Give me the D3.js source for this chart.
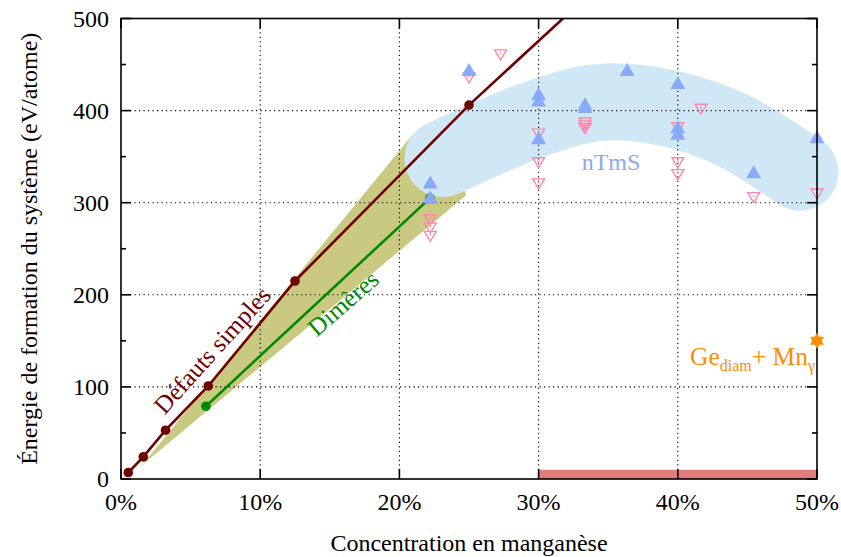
<!DOCTYPE html>
<html><head><meta charset="utf-8">
<script src="https://cdn.jsdelivr.net/npm/d3@7"></script>
<style>body{margin:0;background:#fff}</style>
</head><body><svg id="c" width="841" height="557" font-family="Liberation Serif, Times New Roman, serif"></svg>
<script>
// ---- data ----
const xTickValues = [0, 10, 20, 30, 40, 50];
const xTickLabels = ["0%", "10%", "20%", "30%", "40%", "50%"];
const yTickValues = [0, 100, 200, 300, 400, 500];
const yMinorTicks = [50, 150, 250, 350, 450];
const simpleX = [0.52, 1.6, 3.2, 6.27, 12.5, 25, 33.33];
const simpleY = [7, 24, 53, 101, 215, 406, 522];
const simpleMarked = 6; // first 6 points have markers
const dimerX = [6.1, 22.2];
const dimerY = [79, 305];
const bandX = [1.5, 21.0, 23.5, 24.8];
const bandY = [15, 375, 360, 308];
const blobX = [23.13, 29.6, 34.4, 39.2, 43.97, 48.78];
const blobY = [348, 390, 409, 403, 378.5, 333];
const upX = [25, 30, 30, 30, 33.33, 33.33, 36.36, 40, 40, 40, 45.45, 50, 22.22, 22.22];
const upY = [444, 418, 411, 370, 407, 404, 444, 430, 382, 375, 333, 371, 322, 306];
const downX = [27.27, 25, 30, 30, 30, 33.33, 33.33, 33.33, 40, 40, 40, 41.67, 45.45, 50, 22.22, 22.22, 22.22];
const downY = [461, 436, 375, 344, 321, 387, 384, 381, 382, 344, 331, 402, 306, 310, 282, 273, 264];
const starX = [50], starY = [150];
const barX = [30, 50], barY = [0, 10];

// ---- layout ----
const svg = d3.select("#c");
const L = 121, R = 817, T = 18.5, B = 479;
const x = d3.scaleLinear().domain([0, 50]).range([L, R]);
const y = d3.scaleLinear().domain([0, 500]).range([B, T]);

svg.append("clipPath").attr("id", "clip").append("rect")
  .attr("x", L).attr("y", T).attr("width", R - L).attr("height", B - T);
const gBand = svg.append("g").attr("clip-path", "url(#clip)");
const gBlob = svg.append("g");
const gGrid = svg.append("g");
const gData = svg.append("g").attr("clip-path", "url(#clip)");
const gMark = svg.append("g");
const gAxis = svg.append("g");
const gText = svg.append("g");

// olive band
gBand.append("path")
  .attr("d", d3.line()(bandX.map((d, i) => [x(d), y(bandY[i])])) + "Z")
  .attr("fill", "#c9c982");

// nTmS blob
gBlob.append("path")
  .attr("d", d3.line().curve(d3.curveCatmullRom)(blobX.map((d, i) => [x(d), y(blobY[i])])))
  .attr("fill", "none").attr("stroke", "#d0e8f6").attr("stroke-width", 77)
  .attr("stroke-linecap", "round");

// grid
const grid = gGrid.attr("stroke", "#000").attr("stroke-width", 1.1).attr("stroke-dasharray", "1.2,3.3");
xTickValues.slice(1, -1).forEach(v => grid.append("line").attr("x1", x(v)).attr("x2", x(v)).attr("y1", B).attr("y2", T));
yTickValues.slice(1, -1).forEach(v => grid.append("line").attr("x1", L).attr("x2", R).attr("y1", y(v)).attr("y2", y(v)));

// red bar
gData.append("rect").attr("x", x(barX[0])).attr("width", x(barX[1]) - x(barX[0]))
  .attr("y", y(barY[1])).attr("height", y(barY[0]) - y(barY[1])).attr("fill", "#e07c7c");

// lines
const simplePts = simpleX.map((d, i) => [x(d), y(simpleY[i])]);
gData.append("path").attr("d", d3.line()(simplePts)).attr("fill", "none")
  .attr("stroke", "#6e0000").attr("stroke-width", 2.6);
simplePts.slice(0, simpleMarked).forEach(p => gData.append("circle").attr("cx", p[0]).attr("cy", p[1]).attr("r", 4.8).attr("fill", "#6e0000"));

const dimerPts = dimerX.map((d, i) => [x(d), y(dimerY[i])]);
gData.append("path").attr("d", d3.line()(dimerPts)).attr("fill", "none")
  .attr("stroke", "#008a00").attr("stroke-width", 2.6);
dimerPts.forEach(p => gData.append("circle").attr("cx", p[0]).attr("cy", p[1]).attr("r", 4.8).attr("fill", "#008a00"));

// down triangles (open)
downX.forEach((d, i) => {
  const cx = x(d), cy = y(downY[i]);
  gMark.append("path").attr("d", `M${cx-6},${cy-4.5}L${cx+6},${cy-4.5}L${cx},${cy+5.5}Z`)
    .attr("fill", "none").attr("stroke", "#ff88aa").attr("stroke-width", 1.4);
  gMark.append("circle").attr("cx", cx).attr("cy", cy - 1).attr("r", 0.9).attr("fill", "#ff88aa");
});
// up triangles (filled)
upX.forEach((d, i) => {
  const cx = x(d), cy = y(upY[i]);
  gMark.append("path").attr("d", `M${cx},${cy-7}L${cx+7.5},${cy+6}L${cx-7.5},${cy+6}Z`).attr("fill", "#88aaf8");
});
// star
starX.forEach((d, i) => {
  const cx = x(d), cy = y(starY[i]), r = 8;
  const tri = a => d3.range(3).map(k => { const t = a + k * 2 * Math.PI / 3; return [cx + r * Math.cos(t), cy + r * Math.sin(t)]; });
  gText.append("path").attr("d", d3.line()(tri(-Math.PI / 2)) + "Z" + d3.line()(tri(Math.PI / 2)) + "Z").attr("fill", "#ff8c00");
});

// frame & ticks
gAxis.append("rect").attr("x", L).attr("y", T).attr("width", R - L).attr("height", B - T)
  .attr("fill", "none").attr("stroke", "#000").attr("stroke-width", 1.6);
const tk = gAxis.append("g").attr("stroke", "#000").attr("stroke-width", 1.6);
xTickValues.forEach(v => {
  tk.append("line").attr("x1", x(v)).attr("x2", x(v)).attr("y1", B).attr("y2", B - 10);
  tk.append("line").attr("x1", x(v)).attr("x2", x(v)).attr("y1", T).attr("y2", T + 10);
});
yTickValues.forEach(v => {
  tk.append("line").attr("x1", L).attr("x2", L + 10).attr("y1", y(v)).attr("y2", y(v));
  tk.append("line").attr("x1", R).attr("x2", R - 10).attr("y1", y(v)).attr("y2", y(v));
});
yMinorTicks.forEach(v => {
  tk.append("line").attr("x1", L).attr("x2", L + 5).attr("y1", y(v)).attr("y2", y(v));
  tk.append("line").attr("x1", R).attr("x2", R - 5).attr("y1", y(v)).attr("y2", y(v));
});

// tick labels
xTickValues.forEach((v, i) => gText.append("text").attr("x", x(v)).attr("y", B + 31)
  .attr("text-anchor", "middle").attr("font-size", 24).text(xTickLabels[i]));
yTickValues.forEach(v => gText.append("text").attr("x", L - 12).attr("y", y(v)).attr("dy", "0.35em")
  .attr("text-anchor", "end").attr("font-size", 24).text(v));

// axis titles
gText.append("text").attr("x", (L + R) / 2).attr("y", 551).attr("text-anchor", "middle")
  .attr("font-size", 24).text("Concentration en manganèse");
gText.append("text").attr("transform", `translate(37,${(T + B) / 2}) rotate(-90)`).attr("text-anchor", "middle")
  .attr("font-size", 24).text("Énergie de formation du système (eV/atome)");

// annotations
gText.append("text").attr("transform", `translate(212,350) rotate(-48)`).attr("text-anchor", "middle")
  .attr("dy", "0.35em").attr("font-size", 25).attr("fill", "#6e0000").text("Défauts simples");
gText.append("text").attr("transform", `translate(343,303) rotate(-41)`).attr("text-anchor", "middle")
  .attr("dy", "0.35em").attr("font-size", 25).attr("fill", "#008a00").text("Dimères");
gText.append("text").attr("x", x(35.2)).attr("y", y(336)).attr("text-anchor", "middle")
  .attr("font-size", 24).attr("fill", "#8aaaf5").text("nTmS");
const ge = gText.append("text").attr("x", x(50) - 2).attr("y", y(124)).attr("text-anchor", "end")
  .attr("font-size", 25.5).attr("fill", "#ff8c00");
ge.append("tspan").text("Ge");
ge.append("tspan").attr("font-size", 16).attr("dy", 6).text("diam");
ge.append("tspan").attr("dy", -6).text("+ Mn");
ge.append("tspan").attr("font-size", 16).attr("dy", 6).text("γ");
</script></body></html>
